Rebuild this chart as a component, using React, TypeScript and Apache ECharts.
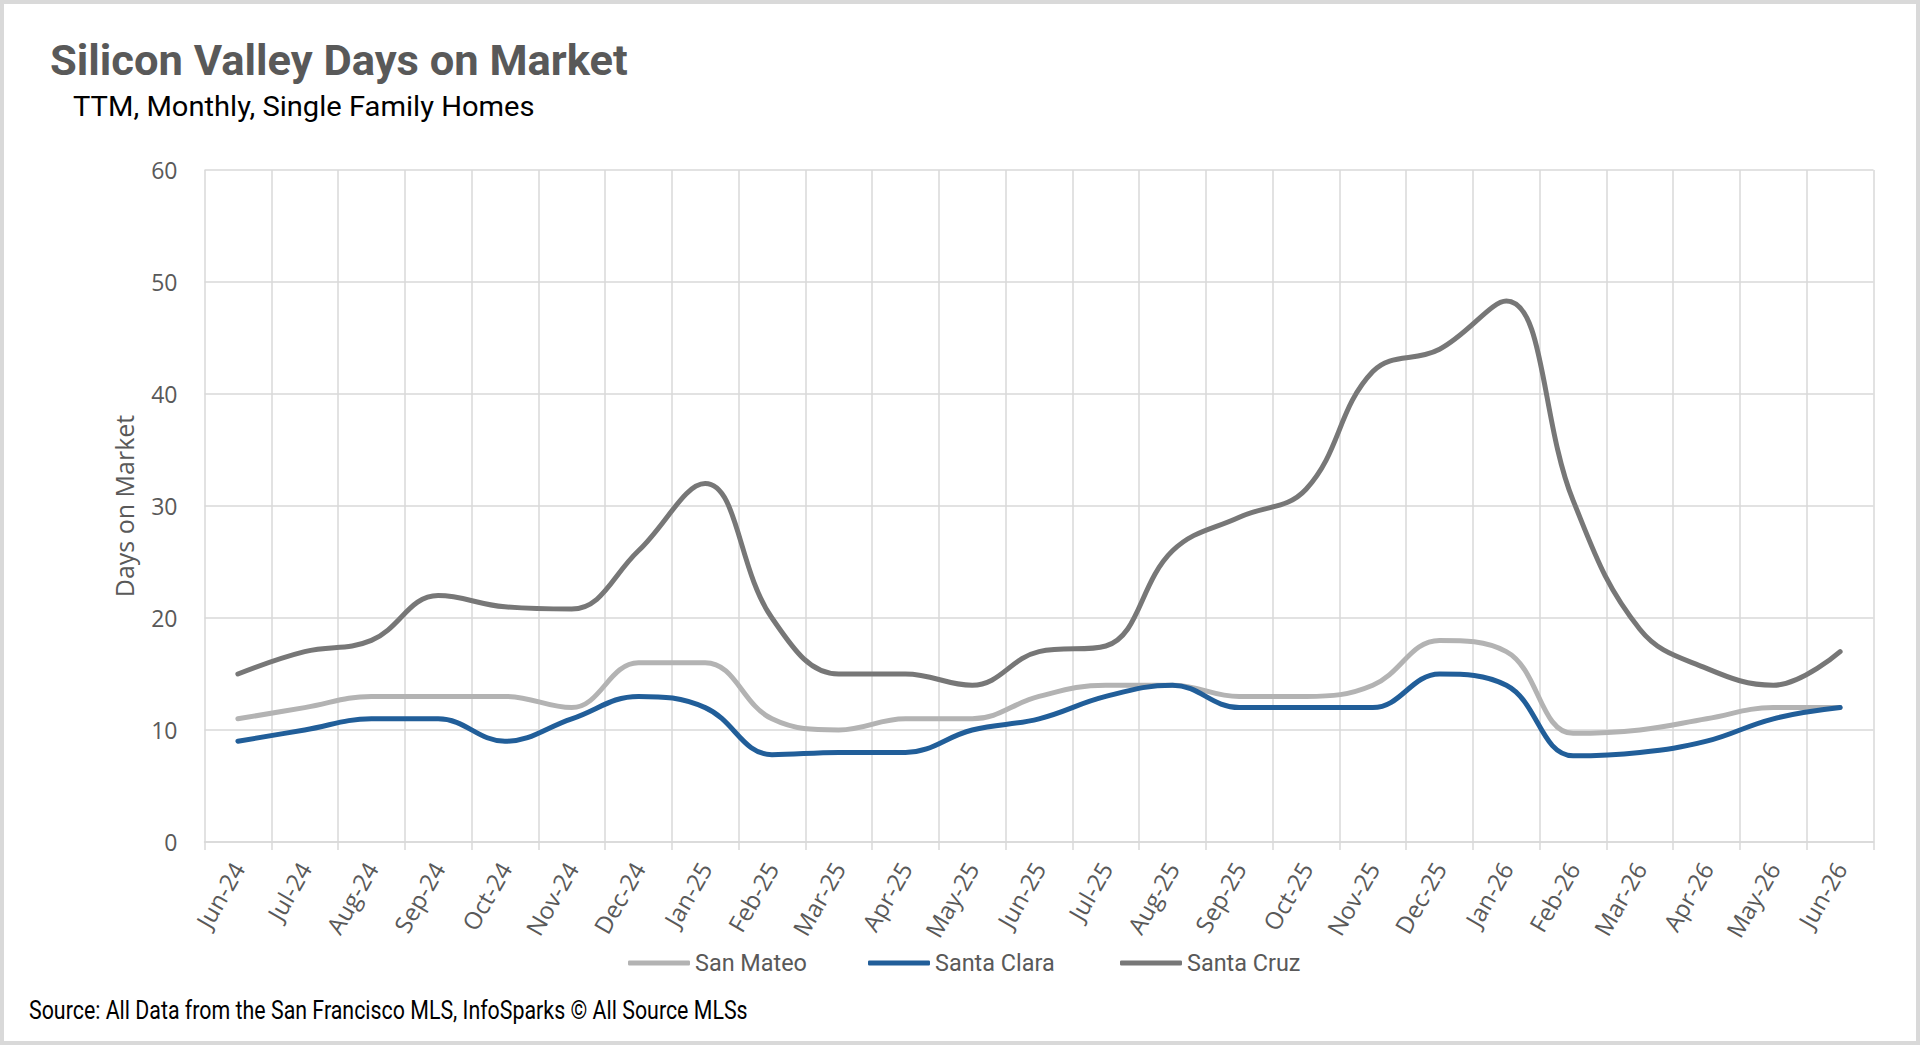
import React, { useEffect, useRef } from "react";
import * as echarts from "echarts";

const months = [
  "Jun-24", "Jul-24", "Aug-24", "Sep-24", "Oct-24", "Nov-24", "Dec-24", "Jan-25", "Feb-25",
  "Mar-25", "Apr-25", "May-25", "Jun-25", "Jul-25", "Aug-25", "Sep-25", "Oct-25", "Nov-25",
  "Dec-25", "Jan-26", "Feb-26", "Mar-26", "Apr-26", "May-26", "Jun-26",
];
const sanMateo = [11, 12, 13, 13, 13, 12, 16, 16, 11, 10, 11, 11, 13, 14, 14, 13, 13, 14, 18, 17, 9.7, 10, 11, 12, 12];
const santaClara = [9, 10, 11, 11, 9, 11, 13, 12, 7.8, 8, 8, 10, 11, 13, 14, 12, 12, 12, 15, 14, 7.7, 8, 9, 11, 12];
const santaCruz = [15, 17, 18, 22, 21, 20.8, 26, 32, 20, 15, 15, 14, 17, 17.5, 26, 29, 31.5, 42, 44, 48.3, 30.5, 19, 15.5, 14, 17];
const seriesNames = ["San Mateo", "Santa Clara", "Santa Cruz"];
const seriesColors = ["#b3b3b3", "#215e99", "#777777"];

const TITLE = "Silicon Valley Days on Market";
const SUBTITLE = "TTM, Monthly, Single Family Homes";
const SOURCE = "Source: All Data from the San Francisco MLS, InfoSparks \u00a9 All Source MLSs";

const NARROW = "Roboto, 'Liberation Sans', sans-serif";
const SANS = "'Open Sans', 'Liberation Sans', sans-serif";
const GRID = "#d9d9d9";
const TEXT = "#595959";

function measure(text: string, font: string): number {
  const c = document.createElement("canvas");
  const ctx = c.getContext("2d");
  if (!ctx) return text.length * 10;
  ctx.font = font;
  return ctx.measureText(text).width;
}

export default function App() {
  const ref = useRef<HTMLDivElement>(null);
  useEffect(() => {
    if (!ref.current) return;
    const chart = echarts.init(ref.current, null, { renderer: "svg" });
    const dataSets = [sanMateo, santaClara, santaCruz];
    const legendLefts = [628, 868, 1120];

    const titleFont = `bold 42px ${NARROW}`;
    const subFont = `28px ${NARROW}`;
    const srcFont = `25px ${NARROW}`;
    const titleScale = 578 / measure(TITLE, titleFont);
    const subScale = 462 / measure(SUBTITLE, subFont);
    const srcScale = 719 / measure(SOURCE, srcFont);
    const legendSize = Math.min(26, (25 * 112) / measure("San Mateo", `25px ${NARROW}`));

    chart.setOption({
      animation: false,
      backgroundColor: "#ffffff",
      grid: { left: 204.5, right: 46.5, top: 170, bottom: 203, containLabel: false },
      xAxis: {
        type: "category",
        data: months,
        boundaryGap: true,
        axisLine: { show: true, lineStyle: { color: GRID, width: 1.5 } },
        axisTick: { show: true, interval: 0, length: 8, lineStyle: { color: GRID, width: 1.5 } },
        splitLine: { show: true, interval: 0, lineStyle: { color: GRID, width: 1.5 } },
        axisLabel: {
          interval: 0,
          rotate: 60,
          margin: 22,
          align: "right",
          verticalAlign: "middle",
          color: TEXT,
          fontFamily: SANS,
          fontSize: 24,
        },
      },
      yAxis: {
        type: "value",
        min: 0,
        max: 60,
        interval: 10,
        name: "Days on Market",
        nameLocation: "middle",
        nameGap: 68,
        nameTextStyle: { color: TEXT, fontFamily: SANS, fontSize: 25 },
        axisLine: { show: false },
        axisTick: { show: false },
        splitLine: { show: true, lineStyle: { color: GRID, width: 1.5 } },
        axisLabel: { color: TEXT, fontFamily: SANS, fontSize: 23, margin: 27 },
      },
      legend: seriesNames.map((n, i) => ({
        data: [n],
        left: legendLefts[i],
        top: 948,
        padding: 0,
        icon: "roundRect",
        itemWidth: 62,
        itemHeight: 5,
        textStyle: { color: TEXT, fontFamily: NARROW, fontSize: legendSize, lineHeight: 30 },
        selectedMode: false,
      })),
      series: seriesNames.map((n, i) => ({
        name: n,
        type: "line",
        data: dataSets[i],
        smooth: 0.4,
        showSymbol: false,
        symbol: "none",
        color: seriesColors[i],
        lineStyle: { color: seriesColors[i], width: 5, cap: "round", join: "round" },
      })),
      graphic: [
        {
          type: "rect",
          shape: { x: 2, y: 2, width: 1916, height: 1041 },
          style: { fill: "none", stroke: "#d9d9d9", lineWidth: 4 },
          silent: true,
        },
        {
          type: "text",
          x: 50,
          y: 60,
          scaleX: titleScale,
          style: { text: TITLE, fill: TEXT, font: titleFont, verticalAlign: "middle" },
        },
        {
          type: "text",
          x: 73,
          y: 106,
          scaleX: subScale,
          style: { text: SUBTITLE, fill: "#000000", font: subFont, verticalAlign: "middle" },
        },
        {
          type: "text",
          x: 29,
          y: 1010,
          scaleX: srcScale,
          style: { text: SOURCE, fill: "#000000", font: srcFont, verticalAlign: "middle" },
        },
      ],
    });
    return () => chart.dispose();
  }, []);
  return (
    <div
      ref={ref}
      style={{ position: "absolute", left: 0, top: 0, width: 1920, height: 1045, background: "#fff" }}
    />
  );
}
